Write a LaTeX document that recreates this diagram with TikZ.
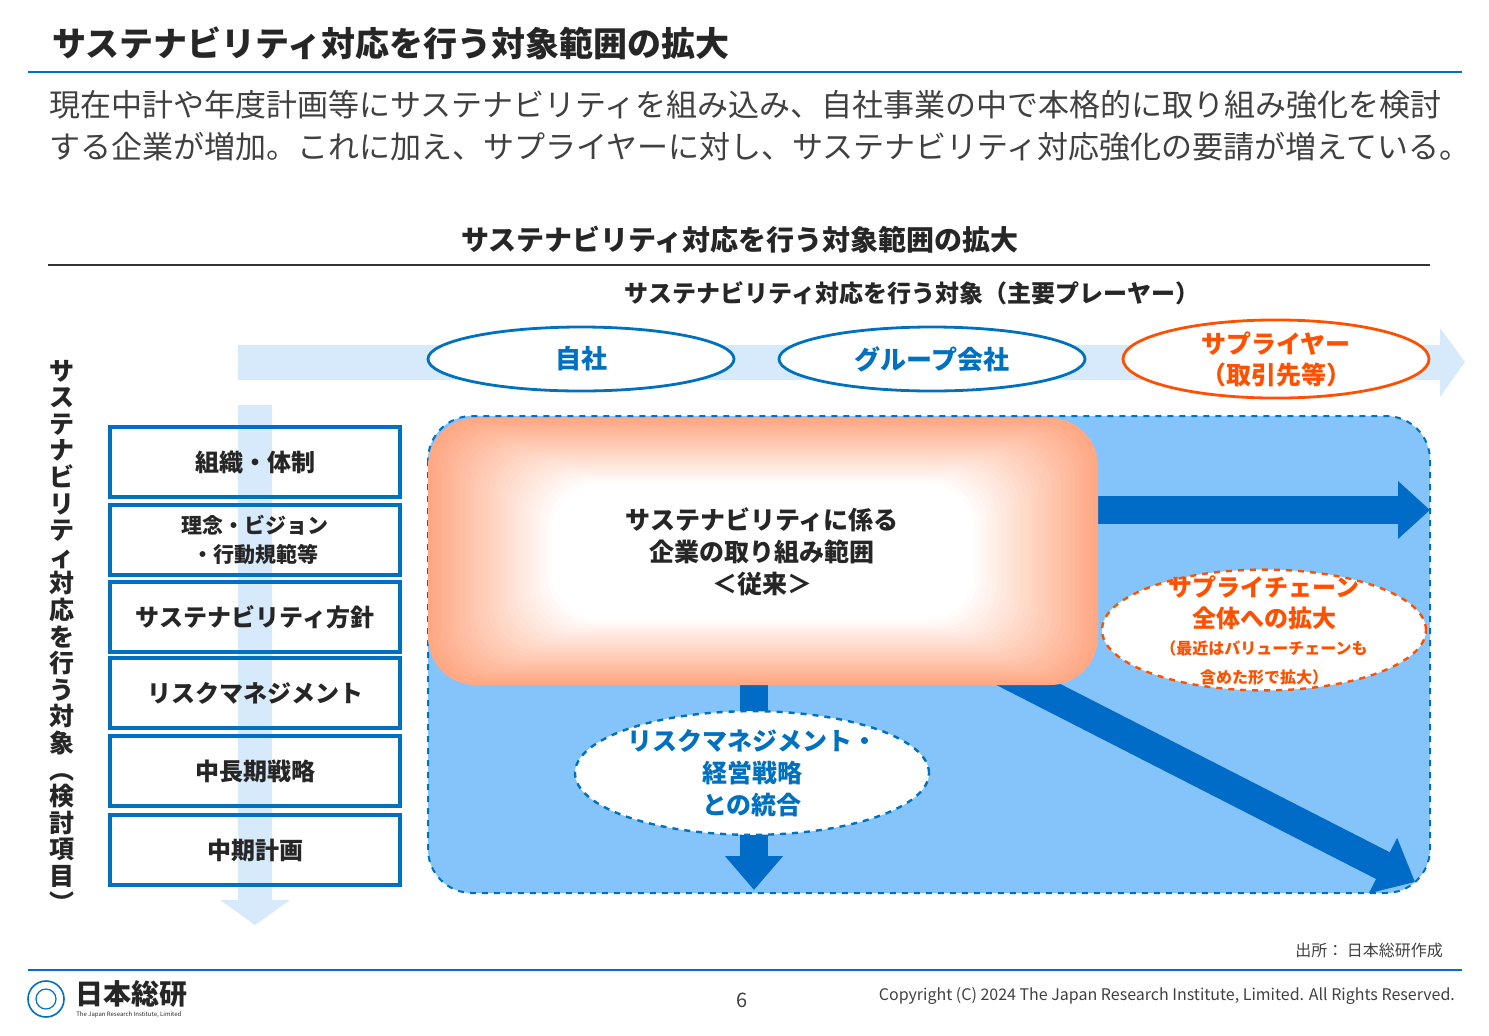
\documentclass[tikz,border=0pt]{standalone}
\usepackage{fontspec}
\setmainfont{Noto Sans CJK JP}
\usetikzlibrary{arrows.meta,shapes.geometric}
\definecolor{jriblue}{RGB}{0,112,192}
\definecolor{paleblue}{RGB}{214,234,252}
\definecolor{areablue}{RGB}{133,196,250}
\definecolor{arrowblue}{RGB}{0,108,200}
\definecolor{supplyred}{RGB}{255,80,0}
\definecolor{salmon}{RGB}{255,160,120}
\definecolor{bodygray}{RGB}{64,64,64}
\newcommand{\fs}[1]{\fontsize{#1}{\dimexpr #1pt*13/10\relax}\selectfont}
\newcommand{\fsl}[2]{\fontsize{#1}{#2}\selectfont}
\begin{document}
\begin{tikzpicture}[x=0.5pt,y=-0.5pt,
    item/.style={draw=jriblue,line width=1.6pt,minimum width=145pt,minimum height=35pt,
      font=\fs{12}\bfseries,text=black!85,align=center,inner sep=0pt},
    player/.style={ellipse,draw=jriblue,line width=1.4pt,fill=white,minimum width=153pt,
      minimum height=32pt,font=\fs{13}\bfseries,text=jriblue,inner sep=0pt,align=center},
    scope/.style={ellipse,dashed,line width=1.2pt,fill=white,inner sep=0pt,align=center,
      font=\fsl{12.5}{16}\bfseries}]
\useasboundingbox (0,0) rectangle (1489,1035);

% heading
\node[anchor=west,font=\fs{17}\bfseries,text=black!85] (title) at (45,43) {サステナビリティ対応を行う対象範囲の拡大};
\draw[jriblue,line width=0.8pt] (28,72) -- (1462,72);
\node[anchor=west,font=\fsl{15.5}{21},text=bodygray,align=left] (lead) at (42,126)
  {現在中計や年度計画等にサステナビリティを組み込み、自社事業の中で本格的に取り組み強化を検討\\する企業が増加。これに加え、サプライヤーに対し、サステナビリティ対応強化の要請が増えている。};

% diagram heading
\node[font=\fs{14}\bfseries,text=black!85] (head) at (740,240) {サステナビリティ対応を行う対象範囲の拡大};
\draw[black!80,line width=0.7pt] (48,265) -- (1430,265);
\node[font=\fs{12}\bfseries,text=black!85] (axis) at (912,293) {サステナビリティ対応を行う対象（主要プレーヤー）};

% background arrows
\fill[paleblue] (238,345) -- (1440,345) -- (1440,328) -- (1465,362) -- (1440,397) -- (1440,380) -- (238,380) -- cycle;
\fill[paleblue] (238,405) -- (272,405) -- (272,900) -- (290,900) -- (255,925) -- (220,900) -- (238,900) -- cycle;

% players
\node[player] (own) at (581,359) {自社};
\node[player] (group) at (932,359) {グループ会社};
\node[player,draw=supplyred,text=supplyred,font=\fsl{12.5}{15.5}\bfseries] (supplier) at (1276,359) {サプライヤー\\（取引先等）};

% vertical axis label
\node[font=\fsl{12.5}{13.3}\bfseries,text=black!85,align=center,inner sep=0pt] (vaxis) at (62,636)
  {サ\\ス\\テ\\ナ\\ビ\\リ\\テ\\ィ\\対\\応\\を\\行\\う\\対\\象\\︵\\検\\討\\項\\目\\︶};

% items
\node[item] (org) at (255,462) {組織・体制};
\node[item,font=\fsl{10.5}{14.5}\bfseries] (vision) at (255,540) {理念・ビジョン\\・行動規範等};
\node[item] (policy) at (255,617) {サステナビリティ方針};
\node[item] (risk) at (255,693) {リスクマネジメント};
\node[item] (longterm) at (255,771) {中長期戦略};
\node[item] (midterm) at (255,850) {中期計画};

% target area
\fill[areablue,rounded corners=22pt] (428,416) rectangle (1430,893);
\draw[jriblue,dashed,line width=1pt,rounded corners=22pt] (428,416) rectangle (1430,893);

% expansion arrows
\coordinate (rs) at (1080,510);
\coordinate (re) at (1430,510);
\coordinate (ds) at (754,670);
\coordinate (de) at (754,890);
\coordinate (gs) at (1000,670);
\coordinate (ge) at (1415,882);
\draw[arrowblue,line width=14pt,-{Triangle[length=16pt,width=28pt]}] (rs) -- (re);
\draw[arrowblue,line width=14pt,-{Triangle[length=17pt,width=28pt]}] (ds) -- (de);
\draw[arrowblue,line width=15pt,-{Triangle[length=18pt,width=30pt]}] (gs) -- (ge);

% conventional scope
\foreach \i in {0,...,32}{
  \pgfmathsetmacro{\mix}{min(100,3.4*\i+8)}
  \fill[white!\mix!salmon,rounded corners=24pt]
    (428+4.6*\i,418+2.4*\i) rectangle (1098-4.6*\i,685-2.4*\i);
}
\node[font=\fsl{12.5}{16}\bfseries,text=black!85,align=center] (conv) at (762,552)
  {サステナビリティに係る\\企業の取り組み範囲\\＜従来＞};

% scope ellipses
\node[scope,draw=jriblue,text=jriblue,minimum width=177pt,minimum height=55pt] (integ) at (752,773)
  {リスクマネジメント・\\経営戦略\\との統合};
\node[scope,draw=supplyred,text=supplyred,minimum width=162pt,minimum height=53pt,inner sep=-6pt,
  font=\fsl{12}{15.5}\bfseries] (chain) at (1264,630)
  {サプライチェーン\\全体への拡大\\[-2pt]{\fsl{8}{11}（最近はバリューチェーンも}\\[-1pt]{\fsl{8}{11}含めた形で拡大）}};

% footer
\node[anchor=east,font=\fs{8},text=bodygray] (source) at (1450,950) {出所： 日本総研作成};
\draw[jriblue,line width=0.6pt] (28,970) -- (1462,970);
\draw[jriblue,line width=0.8pt] (46,999) circle (9pt);
\draw[jriblue,line width=0.6pt] (46,999) circle (5pt);
\node[anchor=west,font=\fs{14}\bfseries,text=black!85,inner sep=0pt] (logo) at (75,994) {日本総研};
\node[anchor=west,font=\fs{3},text=black!85,inner sep=0pt] (logosub) at (76,1015) {The Japan Research Institute, Limited};
\node[font=\fs{10},text=bodygray] (page) at (742,1000) {6};
\node[anchor=east,font=\fs{8},text=bodygray] (copy) at (1462,996) {Copyright (C) 2024 The Japan Research Institute, Limited. All Rights Reserved.};
\end{tikzpicture}
\end{document}
